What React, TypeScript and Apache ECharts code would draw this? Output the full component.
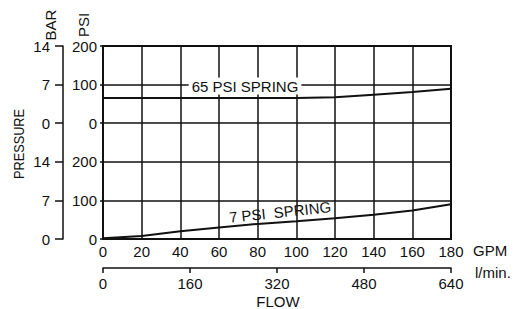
import React, { useEffect, useRef } from "react";
import * as echarts from "echarts";

const gpm = [0, 20, 40, 60, 80, 100, 120, 140, 160, 180];
const spring65Psi = [65, 65, 65, 65, 65, 65, 67, 74, 81, 89];
const spring7Psi = [2, 8, 20, 30, 39, 46, 54, 63, 74, 90];
const psiTickLabels = ["0", "100", "200", "0", "100", "200"];
const barTickLabels = ["0", "7", "14", "0", "7", "14"];
const upperPanelOffset = 300;

const FONT = "'Liberation Sans', Arial, sans-serif";
const INK = "#111";

export default function App() {
  const ref = useRef<HTMLDivElement>(null);

  useEffect(() => {
    document.body.style.margin = "0";
    if (!ref.current) return;
    const chart = echarts.init(ref.current, undefined, { renderer: "svg" });

    const textStyle = { fontFamily: FONT, fontSize: 15, color: INK };
    const gText = { fontFamily: FONT, fontSize: 15, fill: INK };

    chart.setOption({
      animation: false,
      backgroundColor: "#fff",
      grid: {
        left: 103,
        right: 67,
        top: 46,
        bottom: 70,
        show: true,
        borderColor: INK,
        borderWidth: 2,
        backgroundColor: "transparent",
      },
      xAxis: [
        {
          type: "value",
          min: 0,
          max: 180,
          interval: 20,
          position: "bottom",
          axisLine: { show: true, onZero: false, lineStyle: { color: INK, width: 2 } },
          axisTick: { show: false },
          splitLine: { show: true, lineStyle: { color: INK, width: 1.5 } },
          axisLabel: { ...textStyle, margin: 5 },
        },
        {
          type: "value",
          min: 0,
          max: 640,
          interval: 160,
          position: "bottom",
          offset: 29,
          axisLine: { show: true, onZero: false, lineStyle: { color: INK, width: 1.5 } },
          axisTick: { show: true, length: 5, lineStyle: { color: INK, width: 1.5 } },
          splitLine: { show: false },
          axisLabel: { ...textStyle, margin: 8 },
        },
      ],
      yAxis: [
        {
          type: "value",
          min: 0,
          max: 500,
          interval: 100,
          position: "left",
          axisLine: { show: true, onZero: false, lineStyle: { color: INK, width: 2 } },
          axisTick: { show: true, length: 3, lineStyle: { color: INK, width: 1.5 } },
          splitLine: { show: true, lineStyle: { color: INK, width: 1.5 } },
          axisLabel: {
            ...textStyle,
            margin: 6,
            formatter: (v: number) => psiTickLabels[Math.round(v / 100)],
          },
        },
        {
          type: "value",
          min: 0,
          max: 500,
          interval: 100,
          position: "left",
          offset: 40,
          axisLine: { show: true, onZero: false, lineStyle: { color: INK, width: 1.5 } },
          axisTick: { show: true, length: 8, lineStyle: { color: INK, width: 1.5 } },
          splitLine: { show: false },
          axisLabel: {
            ...textStyle,
            margin: 13,
            formatter: (v: number) => barTickLabels[Math.round(v / 100)],
          },
        },
      ],
      series: [
        {
          name: "65 PSI SPRING",
          type: "line",
          xAxisIndex: 0,
          yAxisIndex: 0,
          symbol: "none",
          lineStyle: { color: INK, width: 2 },
          data: gpm.map((g, i) => [g, spring65Psi[i] + upperPanelOffset]),
        },
        {
          name: "7 PSI SPRING",
          type: "line",
          xAxisIndex: 0,
          yAxisIndex: 0,
          symbol: "none",
          lineStyle: { color: INK, width: 2 },
          data: gpm.map((g, i) => [g, spring7Psi[i]]),
        },
      ],
      graphic: [
        {
          type: "text",
          x: 50,
          y: 25,
          rotation: Math.PI / 2,
          style: { text: "BAR", ...gText, align: "center", verticalAlign: "middle" },
        },
        {
          type: "text",
          x: 83,
          y: 25,
          rotation: Math.PI / 2,
          style: { text: "PSI", ...gText, align: "center", verticalAlign: "middle" },
        },
        {
          type: "text",
          x: 19,
          y: 144,
          rotation: Math.PI / 2,
          scaleX: 0.85,
          style: { text: "PRESSURE", ...gText, align: "center", verticalAlign: "middle" },
        },
        {
          type: "text",
          x: 245,
          y: 86,
          z: 100,
          style: {
            text: "65 PSI SPRING",
            ...gText,
            align: "center",
            verticalAlign: "middle",
            backgroundColor: "#fff",
            padding: [1, 3],
          },
        },
        {
          type: "text",
          x: 280,
          y: 212,
          z: 100,
          rotation: 0.105,
          style: { text: "7 PSI  SPRING", ...gText, align: "center", verticalAlign: "middle" },
        },
        {
          type: "text",
          x: 473,
          y: 250,
          style: { text: "GPM", ...gText, align: "left", verticalAlign: "middle" },
        },
        {
          type: "text",
          x: 475,
          y: 272,
          style: { text: "l/min.", ...gText, align: "left", verticalAlign: "middle" },
        },
        {
          type: "text",
          x: 278,
          y: 301,
          style: { text: "FLOW", ...gText, align: "center", verticalAlign: "middle" },
        },
      ],
    });

    return () => chart.dispose();
  }, []);

  return <div ref={ref} style={{ width: 518, height: 309 }} />;
}
